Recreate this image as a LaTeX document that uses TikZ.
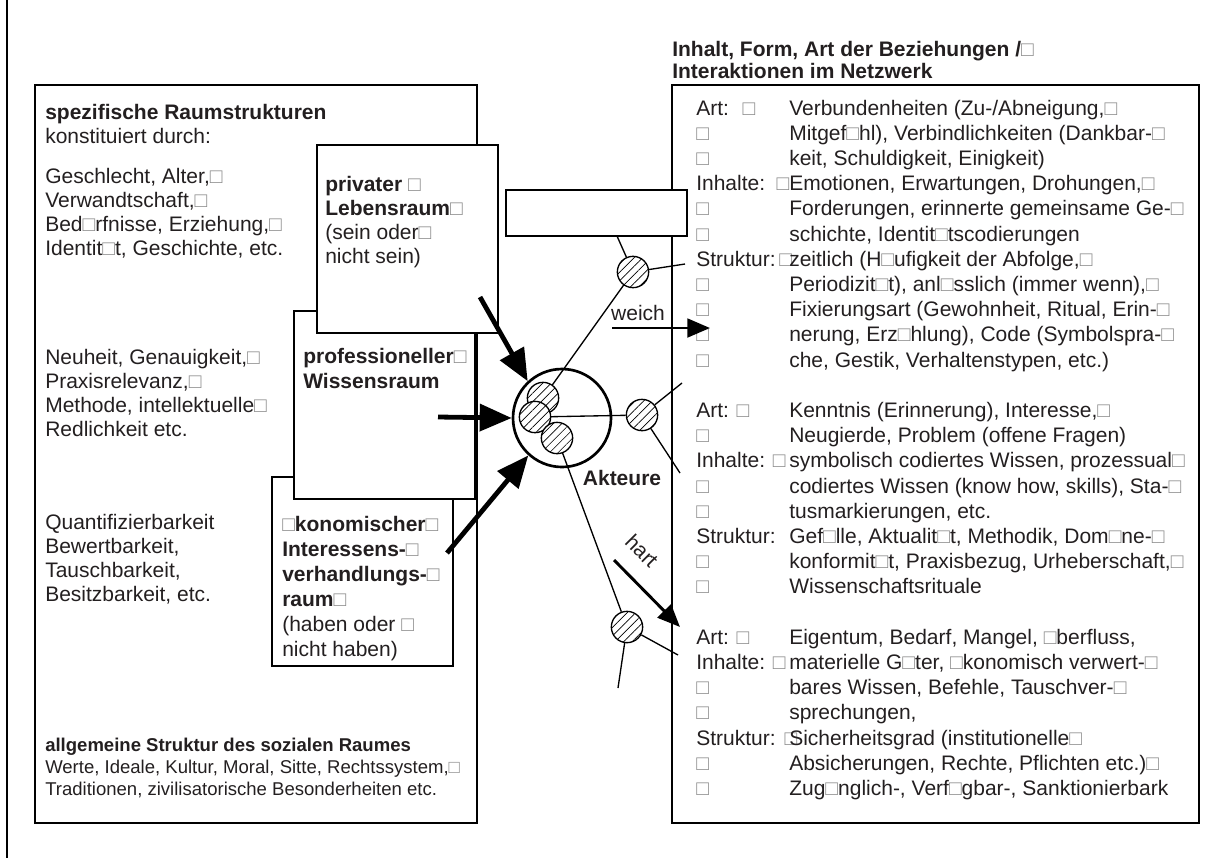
\documentclass[tikz,border=0pt]{standalone}
\usepackage{fontspec}
\setmainfont{Liberation Sans}
\usetikzlibrary{arrows.meta,patterns.meta}

\definecolor{ink}{HTML}{231F20}
\newcommand{\bx}{{\color{black!45}□}}

\tikzset{
  frame/.style={draw, line width=1.8pt},
  card/.style={draw, line width=1.8pt, fill=white},
  txt/.style={anchor=base west, align=left, inner sep=0pt, text=ink,
    font=\fontsize{15.75}{18}\selectfont},
  rtxt/.style={txt, font=\fontsize{15.75}{18.9}\selectfont},
  ttl/.style={txt, font=\fontsize{15.75}{16.5}\selectfont\bfseries},
  hatched/.style={circle, draw, line width=1pt, minimum size=23.5pt, inner sep=0pt,
    preaction={fill=white}, pattern={Lines[angle=45,distance=4.5pt,line width=0.5pt]}},
  actor/.style={circle, draw, line width=2pt, minimum size=73.5pt, inner sep=0pt, fill=white},
  link/.style={line width=1pt},
  bigarrow/.style={line width=3.6pt, -{Triangle[length=24pt,width=20pt]}},
  softarrow/.style={line width=2.2pt, -{Triangle[length=17pt,width=14pt]}}
}

\begin{document}
\begin{tikzpicture}[x=0.75pt,y=0.75pt,yscale=-1,xscale=1]
\useasboundingbox (0,0) rectangle (1219,858);
% (multi-line nodes: base = baseline of the last line)

%Shape: outer line
\draw[line width=0.8pt] (7,0) -- (7,858) ;

%Shape: Rectangle left
\draw[frame] (35,85) -- (477,85) -- (477,823) -- (35,823) -- cycle ;
%Shape: Rectangle right
\draw[frame] (672,85) -- (1199,85) -- (1199,823) -- (672,823) -- cycle ;
%Shape: Rectangle bridge
\draw[card] (506,190) -- (687,190) -- (687,236) -- (506,236) -- cycle ;

%Shape: Rectangle oekonomisch
\draw[card] (272,477) -- (453,477) -- (453,666) -- (272,666) -- cycle ;
%Shape: Rectangle professionell
\draw[card] (294,311) -- (475,311) -- (475,499) -- (294,499) -- cycle ;
%Shape: Rectangle privat
\draw[card] (317,145) -- (498,145) -- (498,333) -- (317,333) -- cycle ;

% Text Node
\node[txt] (spez) at (45,143) {\textbf{spezifische Raumstrukturen}\\konstituiert durch:};
% Text Node
\node[txt] (geschl) at (45,255) {Geschlecht, Alter,\bx\\Verwandtschaft,\bx\\Bed\bx rfnisse, Erziehung,\bx\\Identit\bx t, Geschichte, etc.};
% Text Node
\node[txt] (neuheit) at (45,436) {Neuheit, Genauigkeit,\bx\\Praxisrelevanz,\bx\\Methode, intellektuelle\bx\\Redlichkeit etc.};
% Text Node
\node[txt] (quant) at (45,601) {Quantifizierbarkeit\\Bewertbarkeit,\\Tauschbarkeit,\\Besitzbarkeit, etc.};
% Text Node
\node[txt, font=\fontsize{13.9}{16.5}\selectfont] (allg) at (45,795) {\textbf{allgemeine Struktur des sozialen Raumes}\\Werte, Ideale, Kultur, Moral, Sitte, Rechtssystem,\bx\\Traditionen, zivilisatorische Besonderheiten etc.};

% Text Node
\node[txt] (privat) at (325,263) {\textbf{privater \bx}\\\textbf{Lebensraum\bx}\\(sein oder\bx\\nicht sein)};
% Text Node
\node[txt, font=\fontsize{15.75}{18.75}\selectfont] (profi) at (303,388) {\textbf{professioneller\bx}\\\textbf{Wissensraum}};
% Text Node
\node[txt, font=\fontsize{15.75}{18.75}\selectfont] (oeko) at (282,656) {\textbf{\bx konomischer\bx}\\\textbf{Interessens-\bx}\\\textbf{verhandlungs-\bx}\\\textbf{raum\bx}\\(haben oder \bx\\nicht haben)};

% Text Node
\node[ttl] (titel) at (672,78) {Inhalt, Form, Art der Beziehungen /\bx\\Interaktionen im Netzwerk};

% Text Node
\node[rtxt] (labels) at (696,795.4) {Art: \ \bx\\\bx\\\bx\\Inhalte:\\\bx\\\bx\\Struktur:\\\bx\\\bx\\\bx\\\bx\\\mbox{}\\%
Art: \bx\\\bx\\Inhalte: \bx\\\bx\\\bx\\Struktur:\\\bx\\\bx\\\mbox{}\\%
Art: \bx\\Inhalte: \bx\\\bx\\\bx\\Struktur:\\\bx\\\bx};
% Text Node
\node[rtxt] (inhalt) at (789,795.4) {Verbundenheiten (Zu-/Abneigung,\bx\\Mitgef\bx hl), Verbindlichkeiten (Dankbar-\bx\\keit, Schuldigkeit, Einigkeit)\\%
\llap{\bx}Emotionen, Erwartungen, Drohungen,\bx\\Forderungen, erinnerte gemeinsame Ge-\bx\\schichte, Identit\bx tscodierungen\\%
\llap{\bx\kern-2pt}zeitlich (H\bx ufigkeit der Abfolge,\bx\\Periodizit\bx t), anl\bx sslich (immer wenn),\bx\\Fixierungsart (Gewohnheit, Ritual, Erin-\bx\\nerung, Erz\bx hlung), Code (Symbolspra-\bx\\che, Gestik, Verhaltenstypen, etc.)\\\mbox{}\\%
Kenntnis (Erinnerung), Interesse,\bx\\Neugierde, Problem (offene Fragen)\\symbolisch codiertes Wissen, prozessual\bx\\codiertes Wissen (know how, skills), Sta-\bx\\tusmarkierungen, etc.\\%
Gef\bx lle, Aktualit\bx t, Methodik, Dom\bx ne-\bx\\konformit\bx t, Praxisbezug, Urheberschaft,\bx\\Wissenschaftsrituale\\\mbox{}\\%
Eigentum, Bedarf, Mangel, \bx berfluss,\\materielle G\bx ter, \bx konomisch verwert-\bx\\bares Wissen, Befehle, Tauschver-\bx\\sprechungen,\\%
\llap{\bx\kern-6pt}Sicherheitsgrad (institutionelle\bx\\Absicherungen, Rechte, Pflichten etc.)\bx\\Zug\bx nglich-, Verf\bx gbar-, Sanktionierbark};

% Akteure
\node[actor] (akt) at (562,418) {};
\node[txt, anchor=center, font=\fontsize{15.75}{18}\selectfont\bfseries] (aktname) at (622,478) {Akteure};

\coordinate (tUp) at (617,236);
\coordinate (tRight) at (685,264);
\coordinate (mUp) at (682,383);
\coordinate (mDown) at (680,473);
\coordinate (bRight) at (678,655);
\coordinate (bDown) at (618,688);

\node[hatched] (ht) at (633,272) {};
\node[hatched] (hm) at (642,415) {};
\node[hatched] (hb) at (627,627) {};

\draw[link] (ht) -- (tUp) ;
\draw[link] (ht) -- (tRight) ;
\draw[link] (hm) -- (mUp) ;
\draw[link] (hm) -- (mDown) ;
\draw[link] (hb) -- (bRight) ;
\draw[link] (hb) -- (bDown) ;

\coordinate (ca) at (543,398);
\coordinate (cb) at (535,417);
\coordinate (cc) at (557,438);
\draw[link] (ca) -- (ht) ;
\draw[link] (cb) -- (hm) ;
\draw[link] (cc) -- (hb) ;

\node[hatched] (ia) at (ca) {};
\node[hatched] (ib) at (cb) {};
\node[hatched] (ic) at (cc) {};

% Arrows
\coordinate (fromPrivat) at (480,297);
\coordinate (fromProfi) at (438,417);
\coordinate (fromOeko) at (447,553);
\draw[bigarrow] (fromPrivat) -- (akt.133) ;
\draw[bigarrow] (fromProfi) -- (akt.west) ;
\draw[bigarrow] (fromOeko) -- (akt.228) ;

\coordinate (weichA) at (612,328);
\coordinate (weichB) at (710,328);
\draw[softarrow] (weichA) -- (weichB) ;
\node[txt, anchor=center] (weich) at (638,313) {weich};

\coordinate (hartA) at (614,560);
\coordinate (hartB) at (680,627);
\draw[softarrow] (hartA) -- (hartB) ;
\node[txt, anchor=center, rotate=-45] (hart) at (642,551) {hart};

\end{tikzpicture}
\end{document}
